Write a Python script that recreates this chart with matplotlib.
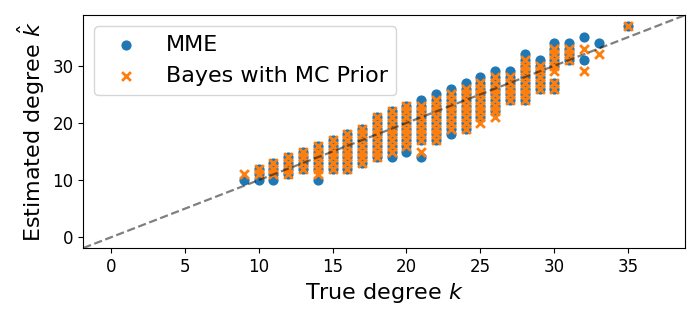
import numpy as np
import matplotlib
matplotlib.use("Agg")
import matplotlib.pyplot as plt

# True degree of each column of points
true_k = [9, 10, 11, 12, 13, 14, 15, 16, 17, 18, 19, 20, 21, 22, 23, 24, 25,
          26, 27, 28, 29, 30, 31, 32, 33, 35]

# MME estimates, one list per true degree
mme = [
    [10],
    [10, 11, 12],
    [10, 11, 12, 13],
    [11, 12, 13, 14],
    [12, 13, 14, 15],
    [10, 12, 13, 14, 15, 16],
    [12, 13, 14, 15, 16, 17],
    [12, 13, 14, 15, 16, 17, 18],
    [13, 14, 15, 16, 17, 18, 19],
    [14, 15, 16, 17, 18, 19, 20, 21],
    [14, 15, 16, 17, 18, 19, 20, 21, 22],
    [15, 16, 17, 18, 19, 20, 21, 22, 23],
    [14, 17, 18, 19, 20, 21, 22, 23, 24],
    [17, 18, 19, 20, 21, 22, 23, 24, 25],
    [18, 19, 20, 21, 22, 23, 24, 25, 26],
    [19, 20, 21, 22, 23, 24, 25, 26, 27],
    [21, 22, 23, 24, 25, 26, 27, 28],
    [22, 23, 24, 25, 26, 27, 28, 29],
    [24, 25, 26, 27, 28, 29],
    [24, 25, 26, 27, 28, 29, 30, 31, 32],
    [26, 27, 28, 29, 30, 31],
    [26, 27, 30, 31, 32, 33, 34],
    [31, 32, 33, 34],
    [31, 35],
    [34],
    [37],
]

# Bayes with MC prior estimates
bayes = [
    [11],
    [11, 12],
    [11, 12, 13],
    [11, 12, 13, 14],
    [12, 13, 14, 15],
    [11, 12, 13, 14, 15, 16],
    [12, 13, 14, 15, 16, 17],
    [12, 13, 14, 15, 16, 17, 18],
    [13, 14, 15, 16, 17, 18, 19],
    [14, 15, 16, 17, 18, 19, 20, 21],
    [15, 16, 17, 18, 19, 20, 21, 22],
    [16, 17, 18, 19, 20, 21, 22, 23],
    [15, 17, 18, 19, 20, 21, 22, 23],
    [17, 18, 19, 20, 21, 22, 23, 24],
    [19, 20, 21, 22, 23, 24, 25],
    [19, 20, 21, 22, 23, 24, 25, 26],
    [20, 21, 22, 23, 24, 25, 26, 27],
    [21, 22, 23, 24, 25, 26, 27, 28],
    [24, 25, 26, 27, 28],
    [24, 25, 26, 27, 28, 29, 30, 31],
    [26, 27, 28, 29, 30],
    [26, 27, 29, 30, 31, 32, 33],
    [31, 32, 33],
    [29, 33],
    [32],
    [37],
]

# flatten columns into x/y pairs
mme_x = [k for k, ys in zip(true_k, mme) for _ in ys]
mme_y = [y for ys in mme for y in ys]
bayes_x = [k for k, ys in zip(true_k, bayes) for _ in ys]
bayes_y = [y for ys in bayes for y in ys]

fig, ax = plt.subplots(figsize=(7, 3.2), dpi=100)
fig.subplots_adjust(left=0.119, right=0.979, bottom=0.225, top=0.953)

ax.scatter(mme_x, mme_y, marker="o", s=40, color="C0", label="MME")
ax.scatter(bayes_x, bayes_y, marker="x", s=40, linewidths=2, color="C1",
           label="Bayes with MC Prior")

# identity line, corner to corner
lim = max(max(mme_y), max(bayes_y))
ax.axline((0, 0), slope=1, color="k", ls="--", alpha=0.5, lw=1.6)

ax.set_xlim(-0.05 * lim, 1.05 * lim)
ax.set_ylim(-0.05 * lim, 1.05 * lim)
ax.set_xticks([0, 5, 10, 15, 20, 25, 30, 35])
ax.set_yticks([0, 10, 20, 30])
ax.tick_params(labelsize=12)

ax.set_xlabel("True degree $k$", fontsize=16)
ax.set_ylabel("Estimated degree $\\hat{k}$", fontsize=16)
ax.legend(loc="upper left", fontsize=16)

plt.savefig("out.png", dpi=100)
